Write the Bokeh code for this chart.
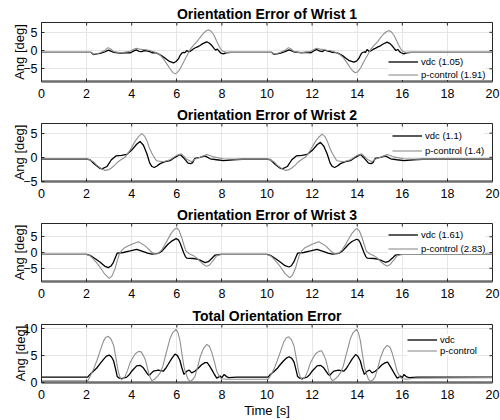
from bokeh.plotting import figure
from bokeh.layouts import column
from bokeh.models import Range1d, FixedTicker, Legend, LegendItem
from bokeh.embed import file_html
from bokeh.resources import INLINE

FONT = "Liberation Sans"
DARK = "#262626"
GRAY = "#8f8f8f"

X_TICKS = [0, 2, 4, 6, 8, 10, 12, 14, 16, 18, 20]

# (time [s], angle [deg]) samples per wrist and controller
W1_VDC = [(0, -0.5), (2.2, -0.5), (2.3, -1.1), (2.45, -0.9), (2.6, -0.8), (2.8, -0.4), (2.97, 0.1),
          (3.1, -0.2), (3.2, -0.5), (3.5, -0.7), (3.75, -0.6), (3.95, -0.6), (4.1, -0.1), (4.2, 0.2),
          (4.32, -0.2), (4.45, -0.3), (4.55, 0.0), (4.67, -0.1), (4.8, -0.3), (4.9, -0.6), (5.05, -0.6),
          (5.18, -0.9), (5.35, -1.5), (5.5, -2.2), (5.65, -2.9), (5.85, -3.4), (5.97, -3.0), (6.07, -2.3),
          (6.15, -1.3), (6.22, -0.7), (6.3, -0.5), (6.37, -0.6), (6.44, 0.0), (6.52, -0.3), (6.6, -0.2),
          (6.7, 0.3), (6.8, 0.7), (6.92, 1.0), (7.03, 1.4), (7.15, 1.9), (7.33, 2.4), (7.45, 2.0),
          (7.55, 1.4), (7.65, 0.6), (7.72, 0.1), (7.8, 0.4), (7.88, -0.2), (7.95, -0.7), (8.07, -0.9),
          (8.2, -0.6), (8.4, -0.5),
          (10.2, -0.5), (10.3, -1.0), (10.45, -0.9), (10.6, -0.7), (10.8, -0.3), (10.97, 0.2), (11.1, -0.1),
          (11.2, -0.4), (11.5, -0.6), (11.75, -0.5), (11.95, -0.6), (12.1, 0.0), (12.2, 0.3), (12.32, -0.1),
          (12.45, -0.3), (12.55, 0.1), (12.67, -0.1), (12.8, -0.3), (12.9, -0.5), (13.05, -0.6),
          (13.18, -0.8), (13.35, -1.4), (13.5, -2.1), (13.65, -2.8), (13.85, -3.2), (13.97, -2.9),
          (14.07, -2.2), (14.15, -1.2), (14.22, -0.6), (14.3, -0.4), (14.37, -0.5), (14.44, 0.3),
          (14.52, -0.2), (14.6, -0.1), (14.7, 0.3), (14.8, 0.6), (14.92, 1.0), (15.03, 1.3), (15.15, 1.8),
          (15.33, 2.3), (15.45, 1.9), (15.55, 1.3), (15.65, 0.5), (15.72, 0.0), (15.8, 0.3), (15.88, -0.3),
          (15.95, -0.6), (16.07, -0.9), (16.2, -0.6), (16.4, -0.5), (20, -0.5)]
W1_PC = [(0, -0.5), (2.2, -0.5), (2.3, -1.0), (2.45, -0.9), (2.6, -0.6), (2.8, 0.0), (2.95, 0.8),
         (3.05, 0.5), (3.2, -0.3), (3.5, -0.6), (3.9, -0.3), (4.05, 0.2), (4.2, 0.6), (4.35, 0.4),
         (4.5, 0.3), (4.65, 0.2), (4.8, 0.0), (4.95, -0.3), (5.1, -0.6), (5.25, -1.2), (5.4, -2.2),
         (5.55, -3.6), (5.7, -5.0), (5.82, -6.0), (5.92, -6.4), (6.03, -6.0), (6.15, -5.0), (6.28, -3.4),
         (6.4, -2.0), (6.5, -0.8), (6.6, 0.4), (6.75, 1.5), (6.9, 2.5), (7.02, 3.5), (7.15, 4.5),
         (7.28, 5.3), (7.4, 5.7), (7.52, 5.3), (7.65, 4.2), (7.75, 2.8), (7.85, 1.5), (7.93, 0.6),
         (8.0, 0.0), (8.1, -0.3), (8.2, -0.5),
         (10.2, -0.5), (10.3, -0.9), (10.45, -0.8), (10.6, -0.5), (10.8, 0.1), (10.95, 0.8), (11.05, 0.5),
         (11.2, -0.3), (11.5, -0.6), (11.9, -0.3), (12.05, 0.2), (12.2, 0.6), (12.35, 0.4), (12.5, 0.3),
         (12.65, 0.1), (12.8, 0.0), (12.95, -0.3), (13.1, -0.6), (13.25, -1.2), (13.4, -2.1),
         (13.55, -3.4), (13.7, -4.8), (13.82, -5.7), (13.92, -6.1), (14.03, -5.8), (14.15, -4.8),
         (14.28, -3.2), (14.4, -1.9), (14.5, -0.8), (14.6, 0.3), (14.75, 1.4), (14.9, 2.4), (15.02, 3.4),
         (15.15, 4.4), (15.28, 5.1), (15.4, 5.5), (15.52, 5.1), (15.65, 4.0), (15.75, 2.7), (15.85, 1.4),
         (15.93, 0.5), (16.0, -0.1), (16.1, -0.4), (16.2, -0.5), (20, -0.5)]

W2_VDC = [(0, -0.4), (2.05, -0.4), (2.15, -0.5), (2.37, -1.5), (2.6, -2.3), (2.68, -2.4), (2.9, -1.9),
          (3.1, -0.5), (3.3, 0.3), (3.55, 0.4), (3.78, 0.6), (4.0, 1.5), (4.22, 2.7), (4.37, 3.3),
          (4.52, 2.5), (4.67, 0.8), (4.8, -1.2), (4.9, -1.9), (5.0, -2.1), (5.12, -1.8), (5.26, -1.3),
          (5.48, -0.9), (5.7, -0.7), (5.92, 0.0), (6.15, 0.6), (6.32, -0.2), (6.5, -1.2), (6.62, -1.3),
          (6.7, -1.1), (6.8, -0.2), (7.03, 0.0), (7.25, 0.3), (7.48, -0.3), (7.77, -0.5), (8.07, -0.7),
          (8.5, -0.5), (8.9, -0.4),
          (10.05, -0.4), (10.15, -0.5), (10.37, -1.5), (10.6, -2.3), (10.68, -2.4), (10.9, -1.9),
          (11.1, -0.5), (11.3, 0.3), (11.55, 0.4), (11.78, 0.6), (12.0, 1.4), (12.22, 2.6), (12.37, 3.1),
          (12.52, 2.3), (12.67, 0.7), (12.8, -1.2), (12.9, -1.9), (13.0, -2.1), (13.12, -1.8),
          (13.26, -1.3), (13.48, -0.9), (13.7, -0.7), (13.92, 0.0), (14.15, 0.6), (14.32, -0.2),
          (14.5, -1.2), (14.62, -1.3), (14.7, -1.1), (14.8, -0.2), (15.03, 0.0), (15.25, 0.3),
          (15.48, -0.3), (15.77, -0.5), (16.07, -0.7), (16.5, -0.5), (16.9, -0.4), (20, -0.4)]
W2_PC = [(0, -0.4), (2.1, -0.4), (2.3, -0.9), (2.45, -1.6), (2.65, -2.3), (2.8, -2.7), (2.95, -2.6),
         (3.1, -2.2), (3.25, -1.6), (3.4, -0.9), (3.55, -0.4), (3.7, 0.0), (3.93, 1.5), (4.15, 3.3),
         (4.3, 4.3), (4.45, 4.9), (4.57, 4.4), (4.67, 3.5), (4.78, 2.0), (4.9, 0.8), (5.0, 0.0),
         (5.1, -0.7), (5.4, -0.9), (5.7, -0.5), (5.99, 0.4), (6.2, 0.7), (6.32, 0.2), (6.44, -0.4),
         (6.66, -0.9), (6.8, -0.4), (7.03, 0.0), (7.33, 0.6), (7.62, 0.1), (8.07, -0.3), (8.66, -0.4),
         (10.1, -0.4), (10.3, -0.9), (10.45, -1.6), (10.65, -2.3), (10.8, -2.7), (10.95, -2.6),
         (11.1, -2.2), (11.25, -1.6), (11.4, -0.9), (11.55, -0.4), (11.7, 0.0), (11.93, 1.5),
         (12.15, 3.3), (12.3, 4.2), (12.45, 4.8), (12.57, 4.3), (12.67, 3.4), (12.78, 2.0), (12.9, 0.8),
         (13.0, 0.0), (13.1, -0.7), (13.4, -0.9), (13.7, -0.5), (13.99, 0.4), (14.2, 0.7), (14.32, 0.2),
         (14.44, -0.4), (14.66, -0.9), (14.8, -0.4), (15.03, 0.0), (15.33, 0.6), (15.62, 0.1),
         (16.07, -0.3), (16.66, -0.4), (20, -0.4)]

W3_VDC = [(0, -0.6), (2.0, -0.6), (2.15, -0.9), (2.3, -1.6), (2.45, -2.3), (2.6, -3.1), (2.8, -4.3),
          (2.96, -4.8), (3.08, -4.3), (3.19, -3.1), (3.28, -1.5), (3.36, -0.2), (3.63, 0.0), (3.93, 0.5),
          (4.22, 1.0), (4.52, 0.3), (4.7, -0.2), (4.9, -0.5), (5.18, -0.3), (5.35, 0.5), (5.48, 1.6),
          (5.62, 2.7), (5.77, 3.6), (5.97, 4.4), (6.07, 4.0), (6.14, 3.1), (6.22, 1.6), (6.3, 0.0),
          (6.38, -1.3), (6.44, -1.8), (6.74, -1.9), (6.9, -2.1), (7.03, -2.4), (7.25, -3.2), (7.4, -2.9),
          (7.48, -2.4), (7.6, -1.5), (7.7, -0.8), (7.92, -0.6),
          (10.0, -0.6), (10.15, -0.9), (10.3, -1.6), (10.45, -2.3), (10.6, -3.1), (10.8, -4.2),
          (10.98, -4.6), (11.08, -4.2), (11.19, -3.0), (11.28, -1.5), (11.36, -0.2), (11.63, 0.0),
          (11.93, 0.5), (12.22, 1.0), (12.52, 0.3), (12.7, -0.2), (12.9, -0.5), (13.18, -0.3),
          (13.35, 0.5), (13.48, 1.5), (13.62, 2.6), (13.77, 3.5), (13.97, 4.2), (14.07, 3.9),
          (14.14, 3.0), (14.22, 1.5), (14.3, 0.0), (14.38, -1.3), (14.44, -1.8), (14.74, -1.9),
          (14.9, -2.1), (15.03, -2.4), (15.25, -3.1), (15.4, -2.8), (15.48, -2.3), (15.6, -1.5),
          (15.7, -0.8), (15.92, -0.6), (20, -0.6)]
W3_PC = [(0, -0.6), (2.0, -0.6), (2.15, -1.0), (2.3, -2.1), (2.45, -3.3), (2.6, -4.7), (2.8, -6.8),
         (3.0, -8.2), (3.12, -7.5), (3.26, -5.2), (3.36, -2.6), (3.45, -0.5), (3.55, 0.6), (3.7, 1.6),
         (4.0, 2.6), (4.3, 3.4), (4.6, 2.1), (4.9, 0.0), (5.05, -0.4), (5.18, -0.3), (5.35, 1.0),
         (5.48, 2.6), (5.62, 4.4), (5.77, 6.3), (5.9, 7.4), (6.0, 7.8), (6.1, 7.0), (6.22, 4.7),
         (6.32, 2.3), (6.4, 0.5), (6.55, -0.4), (6.74, -1.0), (6.9, -1.8), (7.03, -2.8), (7.2, -3.9),
         (7.33, -4.4), (7.45, -4.0), (7.55, -3.1), (7.67, -2.0), (7.77, -1.0), (8.0, -0.6),
         (10.0, -0.6), (10.15, -1.0), (10.3, -2.0), (10.45, -3.2), (10.6, -4.6), (10.8, -6.7),
         (11.0, -8.0), (11.12, -7.3), (11.26, -5.1), (11.36, -2.6), (11.45, -0.5), (11.55, 0.6),
         (11.7, 1.6), (12.0, 2.6), (12.3, 3.4), (12.6, 2.1), (12.9, 0.0), (13.05, -0.4), (13.18, -0.3),
         (13.35, 1.0), (13.48, 2.5), (13.62, 4.3), (13.77, 6.1), (13.9, 7.2), (14.0, 7.6), (14.1, 6.8),
         (14.22, 4.6), (14.32, 2.3), (14.4, 0.5), (14.55, -0.4), (14.74, -1.0), (14.9, -1.8),
         (15.03, -2.8), (15.2, -3.8), (15.33, -4.3), (15.45, -3.9), (15.55, -3.0), (15.67, -2.0),
         (15.77, -1.0), (16.0, -0.6), (20, -0.6)]

TOT_VDC = [(0, 1.0), (2.05, 1.0), (2.15, 1.5), (2.3, 2.1), (2.45, 2.7), (2.6, 3.5), (2.75, 4.3),
           (2.88, 4.9), (3.0, 5.1), (3.1, 4.8), (3.2, 4.0), (3.28, 2.6), (3.36, 1.1), (3.45, 0.8),
           (3.55, 0.7), (3.78, 1.0), (3.9, 1.5), (4.0, 2.1), (4.22, 3.1), (4.37, 3.2), (4.5, 2.8),
           (4.6, 2.2), (4.7, 1.6), (4.78, 1.3), (4.86, 1.7), (4.96, 2.1), (5.18, 2.3), (5.4, 2.1),
           (5.5, 2.6), (5.62, 3.4), (5.78, 4.5), (5.92, 5.3), (6.03, 5.0), (6.14, 4.1), (6.22, 2.8),
           (6.32, 1.5), (6.44, 2.1), (6.55, 2.3), (6.66, 1.8), (6.8, 2.1), (6.96, 2.7), (7.1, 3.3),
           (7.25, 3.7), (7.35, 3.7), (7.45, 3.1), (7.55, 2.4), (7.67, 1.5), (7.77, 0.8), (7.85, 1.0),
           (7.92, 1.2), (8.0, 0.9), (8.1, 1.5), (8.2, 1.1), (8.3, 0.9), (8.66, 1.0),
           (10.05, 1.0), (10.15, 1.5), (10.3, 2.0), (10.45, 2.6), (10.6, 3.4), (10.75, 4.1),
           (10.88, 4.6), (10.98, 4.8), (11.1, 4.5), (11.2, 3.8), (11.28, 2.5), (11.36, 1.1),
           (11.45, 0.8), (11.55, 0.7), (11.78, 1.0), (11.9, 1.5), (12.0, 2.1), (12.22, 3.1),
           (12.37, 3.2), (12.5, 2.8), (12.6, 2.2), (12.7, 1.6), (12.78, 1.3), (12.86, 1.7), (12.96, 2.1),
           (13.18, 2.3), (13.4, 2.1), (13.5, 2.5), (13.62, 3.3), (13.78, 4.4), (13.93, 5.2), (14.03, 4.9),
           (14.14, 4.0), (14.22, 2.7), (14.32, 1.5), (14.44, 2.1), (14.55, 2.3), (14.66, 1.8),
           (14.8, 2.1), (14.96, 2.7), (15.1, 3.3), (15.25, 3.7), (15.35, 3.8), (15.45, 3.1),
           (15.55, 2.4), (15.67, 1.5), (15.77, 0.8), (15.85, 1.0), (15.92, 1.2), (16.0, 0.9),
           (16.07, 1.5), (16.17, 1.1), (16.3, 0.9), (16.66, 1.0), (20, 1.0)]
TOT_PC = [(0, 0.3), (2.05, 0.3), (2.15, 1.1), (2.3, 2.4), (2.45, 4.0), (2.6, 5.9), (2.75, 7.7),
          (2.85, 8.4), (2.96, 8.6), (3.08, 8.1), (3.2, 6.9), (3.3, 4.6), (3.4, 2.1), (3.48, 1.0),
          (3.55, 0.5), (3.7, 1.1), (3.82, 2.3), (3.93, 3.7), (4.05, 4.6), (4.15, 5.3), (4.3, 5.8),
          (4.42, 5.7), (4.52, 5.0), (4.6, 4.3), (4.68, 3.0), (4.75, 1.8), (4.83, 0.8), (4.9, 0.3),
          (5.04, 0.7), (5.15, 1.2), (5.26, 1.8), (5.38, 3.0), (5.48, 4.7), (5.6, 6.6), (5.7, 8.2),
          (5.82, 9.3), (5.97, 9.9), (6.06, 9.2), (6.14, 7.8), (6.24, 5.0), (6.32, 2.9), (6.37, 2.1),
          (6.5, 0.6), (6.6, 0.2), (6.7, 0.5), (6.8, 1.1), (6.92, 2.8), (7.03, 4.7), (7.18, 6.3),
          (7.33, 7.1), (7.45, 6.7), (7.55, 5.6), (7.67, 3.8), (7.77, 2.1), (7.9, 1.0), (8.0, 0.7),
          (8.2, 0.6), (9.9, 0.6),
          (10.05, 0.6), (10.15, 1.2), (10.3, 2.4), (10.45, 4.0), (10.6, 5.8), (10.75, 7.6), (10.85, 8.3),
          (10.96, 8.5), (11.08, 8.0), (11.2, 6.8), (11.3, 4.5), (11.4, 2.1), (11.48, 1.0), (11.55, 0.5),
          (11.7, 1.1), (11.82, 2.3), (11.93, 3.7), (12.05, 4.6), (12.15, 5.3), (12.3, 5.8), (12.42, 5.9),
          (12.52, 5.1), (12.6, 4.3), (12.68, 3.0), (12.75, 1.8), (12.83, 0.8), (12.9, 0.3), (13.04, 0.7),
          (13.15, 1.2), (13.26, 1.8), (13.38, 3.0), (13.48, 4.7), (13.6, 6.6), (13.7, 8.2), (13.82, 9.3),
          (13.97, 9.9), (14.06, 9.2), (14.14, 7.8), (14.24, 5.0), (14.32, 2.9), (14.37, 2.1),
          (14.5, 0.6), (14.6, 0.2), (14.7, 0.5), (14.8, 1.1), (14.92, 2.8), (15.03, 4.6), (15.18, 6.2),
          (15.33, 6.9), (15.45, 6.6), (15.55, 5.5), (15.67, 3.7), (15.77, 2.1), (15.9, 1.0), (16.0, 0.7),
          (16.2, 0.6), (16.5, 0.8), (20, 0.9)]

PANELS = [
    dict(title="Orientation Error of Wrist 1", vdc=W1_VDC, pc=W1_PC,
         labels=["vdc (1.05)", "p-control (1.91)"], y=(-8.5, 7.7), yticks=[-5, 0, 5],
         loc=(347, 1), spacing=2, top=22, height=104, bottom=23),
    dict(title="Orientation Error of Wrist 2", vdc=W2_VDC, pc=W2_PC,
         labels=["vdc (1.1)", "p-control (1.4)"], y=(-5, 7), yticks=[-5, 0, 5],
         loc=(351, 25), spacing=4, top=18, height=100, bottom=23),
    dict(title="Orientation Error of Wrist 3", vdc=W3_VDC, pc=W3_PC,
         labels=["vdc (1.61)", "p-control (2.83)"], y=(-9.2, 9.2), yticks=[-5, 0, 5],
         loc=(347, 27), spacing=3, top=18, height=100, bottom=23),
    dict(title="Total Orientation Error", vdc=TOT_VDC, pc=TOT_PC,
         labels=["vdc", "p-control"], y=(0, 10.8), yticks=[0, 5, 10],
         loc=(366, 26), spacing=0, top=20, height=116, bottom=38, xlabel="Time [s]"),
]

TICK_PX = 3


def make_panel(cfg):
    left, right = 41, 8
    frame_h = cfg["height"] - cfg["top"] - cfg["bottom"]
    frame_w = 500 - left - right
    y0, y1 = cfg["y"]
    p = figure(width=500, height=cfg["height"], x_range=Range1d(0, 20), y_range=Range1d(y0, y1),
               output_backend="svg", toolbar_location=None, title=cfg["title"],
               min_border_left=left, min_border_right=right, min_border_top=cfg["top"],
               min_border_bottom=cfg["bottom"], background_fill_color="white",
               border_fill_color="white", outline_line_color=DARK)
    p.title.text_font = FONT
    p.title.text_font_size = "14px"
    p.title.text_font_style = "bold"
    p.title.align = "center"
    p.title.text_color = "black"
    p.title.standoff = 1

    for ax, ticks in ((p.xaxis[0], X_TICKS), (p.yaxis[0], cfg["yticks"])):
        ax.ticker = FixedTicker(ticks=ticks)
        ax.major_tick_in = TICK_PX
        ax.major_tick_out = 0
        ax.minor_tick_line_color = None
        ax.major_label_text_font = FONT
        ax.major_label_text_font_size = "12.5px"
        ax.major_label_text_color = "black"
        ax.axis_line_color = DARK
        ax.major_tick_line_color = DARK
        ax.axis_label_text_font = FONT
        ax.axis_label_text_font_size = "13px"
        ax.axis_label_text_font_style = "normal"
        ax.axis_label_text_color = "black"
    p.xaxis.major_label_standoff = 7
    p.yaxis.major_label_standoff = 4
    p.xaxis.axis_line_color = "#6e6e6e"
    p.xaxis.axis_line_width = 2.5
    p.yaxis.axis_label = "Ang [deg]"
    p.yaxis.axis_label_standoff = -7
    if cfg.get("xlabel"):
        p.xaxis.axis_label = cfg["xlabel"]
        p.xaxis.axis_label_standoff = 1

    p.xgrid.ticker = FixedTicker(ticks=X_TICKS)
    p.ygrid.ticker = FixedTicker(ticks=cfg["yticks"])
    p.grid.grid_line_color = "#e6e6e6"
    p.grid.grid_line_width = 1

    # inward tick marks on the top and right edges of the box
    dy = (y1 - y0) * TICK_PX / frame_h
    dx = 20 * TICK_PX / frame_w
    p.segment(x0=X_TICKS, x1=X_TICKS, y0=[y1] * len(X_TICKS), y1=[y1 - dy] * len(X_TICKS),
              line_color=DARK, line_width=1)
    p.segment(x0=[20] * len(cfg["yticks"]), x1=[20 - dx] * len(cfg["yticks"]),
              y0=cfg["yticks"], y1=cfg["yticks"], line_color=DARK, line_width=1)

    tv, vv = zip(*cfg["vdc"])
    tp, vp = zip(*cfg["pc"])
    r_vdc = p.line(list(tv), list(vv), line_color="black", line_width=1.3)
    r_pc = p.line(list(tp), list(vp), line_color=GRAY, line_width=1.1)

    legend = Legend(items=[LegendItem(label=cfg["labels"][0], renderers=[r_vdc]),
                           LegendItem(label=cfg["labels"][1], renderers=[r_pc])],
                    location=cfg["loc"], margin=0, padding=2, spacing=cfg["spacing"],
                    glyph_width=30, glyph_height=11, label_height=11, label_standoff=3,
                    label_text_font=FONT, label_text_font_size="9.5px", label_text_color="black",
                    border_line_color=None, background_fill_color="white", background_fill_alpha=1)
    p.add_layout(legend)
    return p


plots = [make_panel(cfg) for cfg in PANELS]
layout = column(*plots, spacing=0)

open("out.html", "w").write(file_html(layout, INLINE))
